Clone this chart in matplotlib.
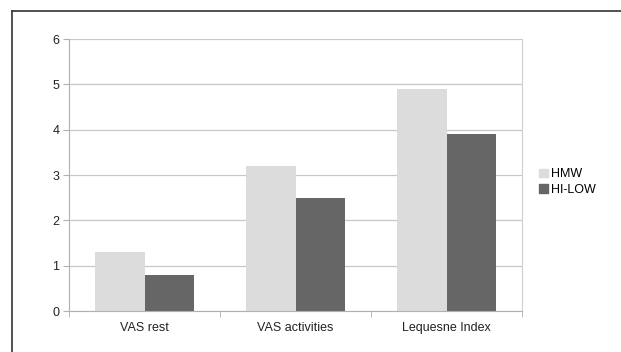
import matplotlib
matplotlib.use("Agg")
import matplotlib.pyplot as plt
from matplotlib.lines import Line2D
import numpy as np

categories = ["VAS rest", "VAS activities", "Lequesne Index"]
hmw = [1.3, 3.2, 4.9]
hilow = [0.8, 2.5, 3.9]
series_names = ["HMW", "HI-LOW"]
colors = ["#dcdcdc", "#666666"]

plt.rcParams['font.family'] = ['Liberation Sans', 'DejaVu Sans']

W, H = 621, 352
fig = plt.figure(figsize=(W/100, H/100), dpi=100)
ax = fig.add_axes([69/W, 1-311/H, (522-69)/W, (311-39)/H])

x = np.arange(len(categories))
bw = 0.33
ax.bar(x - bw/2, hmw, bw, color=colors[0], label=series_names[0], zorder=2)
ax.bar(x + bw/2, hilow, bw, color=colors[1], label=series_names[1], zorder=2)

ax.set_xlim(-0.5, len(categories) - 0.5)
ax.set_ylim(0, 6)
ax.set_yticks(range(0, 7))
ax.yaxis.grid(True, color="#c8c8c8", linewidth=0.9, zorder=0)
ax.set_xticks(x)
ax.set_xticklabels(categories, fontsize=9)
ax.tick_params(axis='x', length=0, pad=8, colors='#222222')
ax.set_xticks(np.arange(-0.5, len(categories)), minor=True)
ax.tick_params(axis='x', which='minor', length=4, color='#b0b0b0')
ax.tick_params(axis='y', length=4, color='#b0b0b0', labelsize=9, labelcolor='#222222', pad=3)
ax.spines['top'].set_visible(False)
ax.spines['left'].set_color('#b0b0b0')
ax.spines['bottom'].set_color('#b0b0b0')
ax.spines['right'].set_color('#d0d0d0')

handles = [plt.Rectangle((0, 0), 1, 1, color=c) for c in colors]
fig.legend(handles, series_names, loc='center left', bbox_to_anchor=(528/W, 1-182/H),
           frameon=False, fontsize=9, handlelength=0.7, handleheight=0.7,
           handletextpad=0.2, labelspacing=0.25)

# outer frame (top and left edges)
fig.add_artist(Line2D([12/W, 1], [1-11/H, 1-11/H], transform=fig.transFigure, color='#333333', lw=1.2))
fig.add_artist(Line2D([12/W, 12/W], [0, 1-11/H], transform=fig.transFigure, color='#333333', lw=1.2))

fig.savefig("out.png", dpi=100)
